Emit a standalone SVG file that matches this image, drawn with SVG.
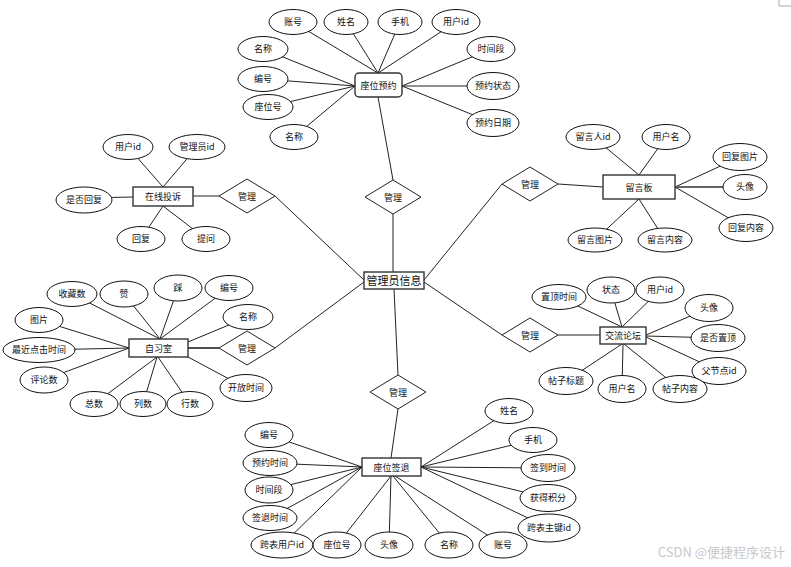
<svg xmlns="http://www.w3.org/2000/svg" width="791" height="567" viewBox="0 0 791 567">
<style>
text{font-family:"Noto Sans CJK SC","Liberation Sans",sans-serif;font-size:9px;fill:#111;text-anchor:middle}
.a ellipse{fill:#fff;stroke:#111;stroke-width:1}
.e rect{fill:#fff;stroke:#333;stroke-width:1.4}
.r polygon{fill:#fff;stroke:#222;stroke-width:1}
#connectors line{stroke:#222;stroke-width:1}
.big{font-size:11px}
.wm{font-size:13px;fill:#c8c8c8;text-anchor:end}
</style>
<rect width="791" height="567" fill="#fff"/>
<polyline points="779,0 779,6 791,6" fill="none" stroke="#aaa" stroke-width="1"/>
<g id="connectors">
<!-- main -->
<line x1="378" y1="97" x2="393" y2="180"/>
<line x1="393" y1="214" x2="393" y2="272"/>
<line x1="394" y1="289" x2="398" y2="375"/>
<line x1="398" y1="409" x2="391" y2="458"/>
<line x1="364" y1="280" x2="275" y2="196"/>
<line x1="364" y1="282" x2="275" y2="348"/>
<line x1="424" y1="280" x2="502" y2="184"/>
<line x1="424" y1="282" x2="502" y2="335"/>
<line x1="193" y1="196" x2="219" y2="196"/>
<line x1="558" y1="184" x2="603" y2="187"/>
<line x1="188" y1="348" x2="219" y2="348" style="stroke-width:1.6"/>
<line x1="558" y1="335" x2="600" y2="335"/>
<!-- 座位预约 -->
<line x1="293" y1="22" x2="378" y2="73"/>
<line x1="346" y1="22" x2="378" y2="73"/>
<line x1="400" y1="22" x2="378" y2="73"/>
<line x1="456" y1="22" x2="378" y2="73"/>
<line x1="263" y1="49" x2="355" y2="86"/>
<line x1="263" y1="79" x2="355" y2="86"/>
<line x1="268" y1="107" x2="355" y2="86"/>
<line x1="294" y1="137" x2="355" y2="86"/>
<line x1="491" y1="49" x2="402" y2="86"/>
<line x1="493" y1="86" x2="402" y2="86"/>
<line x1="493" y1="123" x2="402" y2="86"/>
<!-- 在线投诉 -->
<line x1="128" y1="147" x2="163" y2="187"/>
<line x1="197" y1="147" x2="163" y2="187"/>
<line x1="84" y1="198" x2="133" y2="197"/>
<line x1="141" y1="239" x2="163" y2="206"/>
<line x1="206" y1="239" x2="163" y2="206"/>
<!-- 留言板 -->
<line x1="593" y1="137" x2="639" y2="175"/>
<line x1="666" y1="137" x2="639" y2="175"/>
<line x1="740" y1="157" x2="675" y2="187"/>
<line x1="745" y1="187" x2="675" y2="187" style="stroke:#666;stroke-width:2"/>
<line x1="746" y1="228" x2="675" y2="187"/>
<line x1="595" y1="240" x2="639" y2="199"/>
<line x1="665" y1="240" x2="639" y2="199"/>
<!-- 自习室 -->
<line x1="72" y1="294" x2="160" y2="339"/>
<line x1="124" y1="294" x2="160" y2="339"/>
<line x1="178" y1="288" x2="160" y2="339"/>
<line x1="229" y1="288" x2="160" y2="339"/>
<line x1="248" y1="317" x2="188" y2="342"/>
<line x1="39" y1="320" x2="129" y2="348"/>
<line x1="39" y1="350" x2="129" y2="348"/>
<line x1="44" y1="380" x2="129" y2="348"/>
<line x1="94" y1="404" x2="157" y2="357"/>
<line x1="143" y1="404" x2="157" y2="357"/>
<line x1="190" y1="404" x2="158" y2="357"/>
<line x1="246" y1="388" x2="188" y2="357"/>
<!-- 交流论坛 -->
<line x1="559" y1="297" x2="622" y2="327"/>
<line x1="611" y1="290" x2="622" y2="327"/>
<line x1="660" y1="290" x2="622" y2="327"/>
<line x1="709" y1="308" x2="646" y2="335"/>
<line x1="718" y1="338" x2="646" y2="336"/>
<line x1="719" y1="371" x2="646" y2="337"/>
<line x1="566" y1="381" x2="622" y2="344"/>
<line x1="622" y1="389" x2="623" y2="344"/>
<line x1="680" y1="389" x2="624" y2="344"/>
<!-- 座位签退 -->
<line x1="269" y1="435" x2="362" y2="467"/>
<line x1="270" y1="463" x2="362" y2="467"/>
<line x1="269" y1="490" x2="362" y2="467"/>
<line x1="270" y1="518" x2="362" y2="467"/>
<line x1="282" y1="545" x2="362" y2="467"/>
<line x1="337" y1="545" x2="391" y2="476"/>
<line x1="389" y1="545" x2="391" y2="476"/>
<line x1="449" y1="545" x2="393" y2="476"/>
<line x1="503" y1="545" x2="395" y2="476"/>
<line x1="509" y1="411" x2="421" y2="467"/>
<line x1="533" y1="440" x2="421" y2="467"/>
<line x1="548" y1="468" x2="421" y2="467"/>
<line x1="548" y1="498" x2="421" y2="467"/>
<line x1="549" y1="528" x2="421" y2="467"/>
</g>

<!-- entities -->
<g id="zwyy" class="e"><rect x="355" y="73" width="47" height="24" rx="4"/><text x="378.5" y="88.5">座位预约</text></g>
<g id="glyxx" class="e"><rect x="364" y="272" width="60" height="17"/><text class="big" x="394" y="284.5">管理员信息</text></g>
<g id="zxts" class="e"><rect x="133" y="187" width="60" height="19"/><text x="163" y="200">在线投诉</text></g>
<g id="lyb" class="e"><rect x="603" y="175" width="72" height="24"/><text x="639" y="190.5">留言板</text></g>
<g id="zxs" class="e"><rect x="129" y="339" width="59" height="18"/><text x="158.5" y="351.5">自习室</text></g>
<g id="jllt" class="e"><rect x="600" y="327" width="46" height="17"/><text x="623" y="339">交流论坛</text></g>
<g id="zwqt" class="e"><rect x="362" y="458" width="59" height="18"/><text x="391.5" y="470.5">座位签退</text></g>

<!-- relationships -->
<g id="r1" class="r"><polygon points="393,180 421,197 393,214 365,197"/><text x="393" y="200.5">管理</text></g>
<g id="r2" class="r"><polygon points="247,179 275,196 247,213 219,196"/><text x="247" y="199.5">管理</text></g>
<g id="r3" class="r"><polygon points="530,167 558,184 530,201 502,184"/><text x="530" y="187.5">管理</text></g>
<g id="r4" class="r"><polygon points="247,331 275,348 247,365 219,348"/><text x="247" y="351.5">管理</text></g>
<g id="r5" class="r"><polygon points="530,318 558,335 530,352 502,335"/><text x="530" y="338.5">管理</text></g>
<g id="r6" class="r"><polygon points="398,375 426,392 398,409 370,392"/><text x="398" y="395.5">管理</text></g>

<!-- 座位预约 attributes -->
<g id="a_yy_zh" class="a"><ellipse cx="293" cy="22" rx="24" ry="12.5"/><text x="293" y="25">账号</text></g>
<g id="a_yy_xm" class="a"><ellipse cx="346" cy="22" rx="22" ry="12.5"/><text x="346" y="25">姓名</text></g>
<g id="a_yy_sj" class="a"><ellipse cx="400" cy="22" rx="22" ry="12.5"/><text x="400" y="25">手机</text></g>
<g id="a_yy_yhid" class="a"><ellipse cx="456" cy="22" rx="24" ry="12.5"/><text x="456" y="25">用户id</text></g>
<g id="a_yy_mc1" class="a"><ellipse cx="263" cy="49" rx="25" ry="12.5"/><text x="263" y="52">名称</text></g>
<g id="a_yy_bh" class="a"><ellipse cx="263" cy="79" rx="25" ry="12.5"/><text x="263" y="82">编号</text></g>
<g id="a_yy_zwh" class="a"><ellipse cx="268" cy="107" rx="25" ry="12.5"/><text x="268" y="110">座位号</text></g>
<g id="a_yy_mc2" class="a"><ellipse cx="294" cy="137" rx="24" ry="12.5"/><text x="294" y="140">名称</text></g>
<g id="a_yy_sjd" class="a"><ellipse cx="491" cy="49" rx="24" ry="12.5"/><text x="491" y="52">时间段</text></g>
<g id="a_yy_yyzt" class="a"><ellipse cx="493" cy="86" rx="26" ry="13.5"/><text x="493" y="89">预约状态</text></g>
<g id="a_yy_yyrq" class="a"><ellipse cx="493" cy="123" rx="26" ry="13.5"/><text x="493" y="126">预约日期</text></g>

<!-- 在线投诉 attributes -->
<g id="a_ts_yhid" class="a"><ellipse cx="128" cy="147" rx="25" ry="12.5"/><text x="128" y="150">用户id</text></g>
<g id="a_ts_glyid" class="a"><ellipse cx="197" cy="147" rx="28" ry="12.5"/><text x="197" y="150">管理员id</text></g>
<g id="a_ts_sfhf" class="a"><ellipse cx="84" cy="200" rx="28" ry="13"/><text x="84" y="203">是否回复</text></g>
<g id="a_ts_hf" class="a"><ellipse cx="141" cy="239" rx="24" ry="12.5"/><text x="141" y="242">回复</text></g>
<g id="a_ts_tw" class="a"><ellipse cx="206" cy="239" rx="24" ry="12.5"/><text x="206" y="242">提问</text></g>

<!-- 留言板 attributes -->
<g id="a_ly_lyrid" class="a"><ellipse cx="593" cy="137" rx="27" ry="12.5"/><text x="593" y="140">留言人id</text></g>
<g id="a_ly_yhm" class="a"><ellipse cx="666" cy="137" rx="24" ry="12.5"/><text x="666" y="140">用户名</text></g>
<g id="a_ly_hftp" class="a"><ellipse cx="740" cy="157" rx="27" ry="13.5"/><text x="740" y="160">回复图片</text></g>
<g id="a_ly_tx" class="a"><ellipse cx="745" cy="187" rx="22" ry="12.5"/><text x="745" y="190">头像</text></g>
<g id="a_ly_hfnr" class="a"><ellipse cx="746" cy="228" rx="27" ry="13.5"/><text x="746" y="231">回复内容</text></g>
<g id="a_ly_lytp" class="a"><ellipse cx="595" cy="240" rx="27" ry="12"/><text x="595" y="243">留言图片</text></g>
<g id="a_ly_lynr" class="a"><ellipse cx="665" cy="240" rx="27" ry="12"/><text x="665" y="243">留言内容</text></g>

<!-- 自习室 attributes -->
<g id="a_zx_scs" class="a"><ellipse cx="72" cy="294" rx="25" ry="12.5"/><text x="72" y="297">收藏数</text></g>
<g id="a_zx_z" class="a"><ellipse cx="124" cy="294" rx="24" ry="13"/><text x="124" y="297">赞</text></g>
<g id="a_zx_c" class="a"><ellipse cx="178" cy="288" rx="24" ry="13"/><text x="178" y="291">踩</text></g>
<g id="a_zx_bh" class="a"><ellipse cx="229" cy="288" rx="24" ry="12.5"/><text x="229" y="291">编号</text></g>
<g id="a_zx_mc" class="a"><ellipse cx="248" cy="317" rx="25" ry="12.5"/><text x="248" y="320">名称</text></g>
<g id="a_zx_tp" class="a"><ellipse cx="39" cy="320" rx="24" ry="12.5"/><text x="39" y="323">图片</text></g>
<g id="a_zx_zjdj" class="a"><ellipse cx="39" cy="350" rx="36" ry="12.5"/><text x="39" y="353">最近点击时间</text></g>
<g id="a_zx_pls" class="a"><ellipse cx="44" cy="380" rx="24" ry="13"/><text x="44" y="383">评论数</text></g>
<g id="a_zx_zs" class="a"><ellipse cx="94" cy="404" rx="24" ry="12.5"/><text x="94" y="407">总数</text></g>
<g id="a_zx_ls" class="a"><ellipse cx="143" cy="404" rx="23" ry="12.5"/><text x="143" y="407">列数</text></g>
<g id="a_zx_hs" class="a"><ellipse cx="190" cy="404" rx="23" ry="12.5"/><text x="190" y="407">行数</text></g>
<g id="a_zx_kfsj" class="a"><ellipse cx="246" cy="388" rx="26" ry="13.5"/><text x="246" y="391">开放时间</text></g>

<!-- 交流论坛 attributes -->
<g id="a_lt_zdsj" class="a"><ellipse cx="559" cy="297" rx="27" ry="12.5"/><text x="559" y="300">置顶时间</text></g>
<g id="a_lt_zt" class="a"><ellipse cx="611" cy="290" rx="24" ry="13"/><text x="611" y="293">状态</text></g>
<g id="a_lt_yhid" class="a"><ellipse cx="660" cy="290" rx="24" ry="13"/><text x="660" y="293">用户id</text></g>
<g id="a_lt_tx" class="a"><ellipse cx="709" cy="308" rx="24" ry="13.5"/><text x="709" y="311">头像</text></g>
<g id="a_lt_sfzd" class="a"><ellipse cx="718" cy="338" rx="27" ry="13.5"/><text x="718" y="341">是否置顶</text></g>
<g id="a_lt_fjdid" class="a"><ellipse cx="719" cy="371" rx="27" ry="13.5"/><text x="719" y="374">父节点id</text></g>
<g id="a_lt_tzbt" class="a"><ellipse cx="566" cy="381" rx="27" ry="13.5"/><text x="566" y="384">帖子标题</text></g>
<g id="a_lt_yhm" class="a"><ellipse cx="622" cy="389" rx="24" ry="13.5"/><text x="622" y="392">用户名</text></g>
<g id="a_lt_tznr" class="a"><ellipse cx="680" cy="389" rx="27" ry="13.5"/><text x="680" y="392">帖子内容</text></g>

<!-- 座位签退 attributes -->
<g id="a_qt_xm" class="a"><ellipse cx="509" cy="411" rx="24" ry="12.5"/><text x="509" y="414">姓名</text></g>
<g id="a_qt_sj" class="a"><ellipse cx="533" cy="440" rx="24" ry="12.5"/><text x="533" y="443">手机</text></g>
<g id="a_qt_qdsj" class="a"><ellipse cx="548" cy="468" rx="27" ry="13.5"/><text x="548" y="471">签到时间</text></g>
<g id="a_qt_hdjf" class="a"><ellipse cx="548" cy="498" rx="28" ry="13.5"/><text x="548" y="501">获得积分</text></g>
<g id="a_qt_kbzj" class="a"><ellipse cx="549" cy="528" rx="31" ry="14"/><text x="549" y="531">跨表主键id</text></g>
<g id="a_qt_bh" class="a"><ellipse cx="269" cy="435" rx="24" ry="12.5"/><text x="269" y="438">编号</text></g>
<g id="a_qt_yysj" class="a"><ellipse cx="270" cy="463" rx="27" ry="12.5"/><text x="270" y="466">预约时间</text></g>
<g id="a_qt_sjd" class="a"><ellipse cx="269" cy="490" rx="24" ry="13"/><text x="269" y="493">时间段</text></g>
<g id="a_qt_qtsj" class="a"><ellipse cx="270" cy="518" rx="27" ry="12.5"/><text x="270" y="521">签退时间</text></g>
<g id="a_qt_kbyh" class="a"><ellipse cx="282" cy="545" rx="31" ry="13"/><text x="282" y="548">跨表用户id</text></g>
<g id="a_qt_zwh" class="a"><ellipse cx="337" cy="545" rx="24" ry="13"/><text x="337" y="548">座位号</text></g>
<g id="a_qt_tx" class="a"><ellipse cx="389" cy="545" rx="24" ry="13"/><text x="389" y="548">头像</text></g>
<g id="a_qt_mc" class="a"><ellipse cx="449" cy="545" rx="24" ry="13"/><text x="449" y="548">名称</text></g>
<g id="a_qt_zh" class="a"><ellipse cx="503" cy="545" rx="24" ry="13"/><text x="503" y="548">账号</text></g>

<text class="wm" x="785" y="557">CSDN @便捷程序设计</text>
</svg>
